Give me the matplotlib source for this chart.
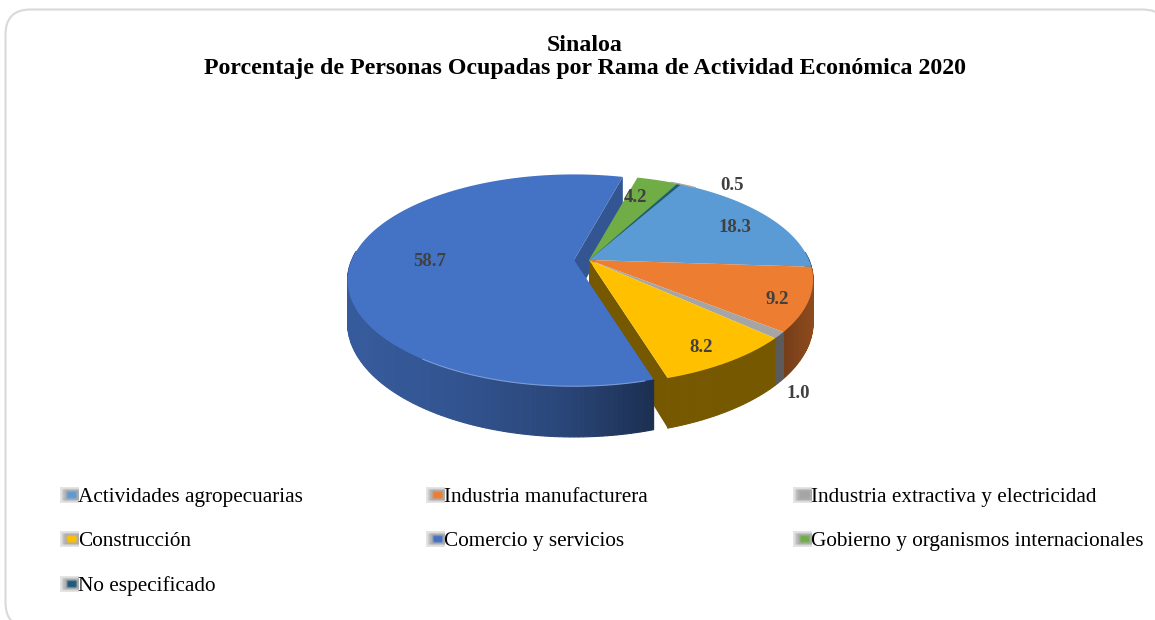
import numpy as np
import matplotlib
matplotlib.use('Agg')
import matplotlib.pyplot as plt
from matplotlib.patches import FancyBboxPatch, Polygon

plt.rcParams['font.family'] = ['Liberation Serif', 'DejaVu Serif']

title_lines = ['Sinaloa', 'Porcentaje de Personas Ocupadas por Rama de Actividad Económica 2020']
categories = ['Actividades agropecuarias', 'Industria manufacturera', 'Industria extractiva y electricidad',
              'Construcción', 'Comercio y servicios', 'Gobierno y organismos internacionales', 'No especificado']
values = [18.3, 9.2, 1.0, 8.2, 58.7, 4.2, 0.5]
value_labels = ['18.3', '9.2', '1.0', '8.2', '58.7', '4.2', '0.5']

colors = ['#5b9bd5', '#ed7d31', '#a5a5a5', '#ffc000', '#4472c4', '#70ad47', '#1f5c7c']
label_pos = [(735, 227), (777, 299), (798, 393), (701, 347), (430, 261), (635, 197), (732, 185)]
legend_pos = [(61, 502), (427, 502), (794, 502), (61, 546), (427, 546), (794, 546), (61, 591)]

# pie geometry, pixels
CX, CY = 589, 260
RX, RY = 220, 101
PERSP = 0.19
DEPTH = 41
START = 28
BLUE = 4
EXPLODE = (-15, 0)
BLUE_R = 1.01
# degrees added to the slice edges, the 3d view in the original skews them
EDGE_NUDGE = [0, 0, 2, 2, 3, 4, 3, 0]


def project(theta, r=1.0, dz=0.0, off=(0, 0)):
    u = r * np.sin(np.radians(theta))
    v = -r * np.cos(np.radians(theta))
    w = 1 - PERSP * v
    return CX + off[0] + RX * u / w, CY + off[1] + (RY * v + dz) / w


def shade(col, f):
    return tuple(np.array(matplotlib.colors.to_rgb(col)) * f)


def side_factor(i, x):
    if i == BLUE:
        return np.interp(x, [348, 450, 560, 650], [0.8, 0.74, 0.62, 0.42])
    if i == 3:
        return 0.46
    if i == 1:
        return np.interp(x, [770, 813], [0.45, 0.6])
    return 0.55


def slice_args(i):
    if i == BLUE:
        return BLUE_R, EXPLODE, 6
    return 1.0, (0, 0), 3


def draw_side(ax, i, t0, t1):
    r, off, z = slice_args(i)
    ts = np.linspace(t0, t1, max(int(t1 - t0), 2) + 1)
    for a, b in zip(ts[:-1], ts[1:]):
        # back of the pie has no visible wall
        if -np.cos(np.radians((a + b) / 2)) < -0.08:
            continue
        xa, ya = project(a, r, off=off)
        xb, yb = project(b, r, off=off)
        xc, yc = project(b, r, dz=DEPTH, off=off)
        xd, yd = project(a, r, dz=DEPTH, off=off)
        col = shade(colors[i], side_factor(i, (xa + xb) / 2))
        ax.add_patch(Polygon([(xa, ya), (xb, yb), (xc, yc), (xd, yd)], fc=col, ec=col, lw=0.8, zorder=z))


def draw_cut(ax, i, theta, f, z):
    r, off, _ = slice_args(i)
    x0, y0 = project(0, r=0, off=off)
    x1, y1 = project(theta, r, off=off)
    x2, y2 = project(theta, r, dz=DEPTH, off=off)
    x3, y3 = project(0, r=0, dz=DEPTH, off=off)
    ax.add_patch(Polygon([(x0, y0), (x1, y1), (x2, y2), (x3, y3)], fc=shade(colors[i], f), ec='none', zorder=z))


def draw_top(ax, i, t0, t1):
    r, off, z = slice_args(i)
    ts = np.linspace(t0, t1, max(int(t1 - t0), 2) + 1)
    pts = [project(0, r=0, off=off)] + [project(t, r, off=off) for t in ts]
    ax.add_patch(Polygon(pts, fc=colors[i], ec='none', zorder=z + 1))


def legend_key(ax, col, x, y):
    key = np.empty((7, 8, 3))
    key[:] = matplotlib.colors.to_rgb('#e4e4e4')
    key[1:6, 1:] = matplotlib.colors.to_rgb('#c0c0c0')
    key[1:6, 2:] = matplotlib.colors.to_rgb('#adadad')
    key[2:5, 3:7] = matplotlib.colors.to_rgb(col)
    ax.imshow(key, extent=(x - 1, x + 18, y + 8, y - 8), aspect='auto', interpolation='bilinear', zorder=4)


fig = plt.figure(figsize=(11.55, 6.2), dpi=100)
ax = fig.add_axes([0, 0, 1, 1])
ax.axis('off')

frame = FancyBboxPatch((5.5, 9.5), 1162, 618, boxstyle='round,pad=0,rounding_size=25',
                       fc='white', ec='#d9d9d9', lw=1.5, zorder=0)
ax.add_patch(frame)

ax.text(585, 51, title_lines[0], ha='center', va='baseline', fontsize=17.2, fontweight='bold', color='black')
ax.text(585, 74, title_lines[1], ha='center', va='baseline', fontsize=17.2, fontweight='bold', color='black')

# slices clockwise from START
edges = START + np.cumsum([0] + values) * 360 / sum(values) + np.array(EDGE_NUDGE)
draw_cut(ax, BLUE, edges[BLUE + 1], 0.75, 2)
for i in range(len(values)):
    draw_side(ax, i, edges[i], edges[i + 1])
draw_cut(ax, 3, edges[BLUE], 0.46, 3.5)
for i in range(len(values)):
    draw_top(ax, i, edges[i], edges[i + 1])

# lighter rim along the front of the big slice
rim = [project(t, BLUE_R, off=EXPLODE) for t in np.linspace(edges[BLUE] + 2, edges[BLUE] + 52, 50)]
ax.plot([p[0] for p in rim], [p[1] for p in rim], color='#7c9cd8', lw=0.8, zorder=8)
# grey line up to the 0.5 label
lead = [project(t) for t in np.linspace(edges[0] - 2, edges[0] + 6, 12)]
ax.plot([p[0] for p in lead], [p[1] for p in lead], color='#a6a6a6', lw=1.0, zorder=8)

for lab, (x, y) in zip(value_labels, label_pos):
    ax.text(x, y, lab, ha='center', va='center', fontsize=13.5, fontweight='bold', color='#404040', zorder=10)

for name, col, (x, y) in zip(categories, colors, legend_pos):
    legend_key(ax, col, x, y - 7)
    ax.text(x + 17, y, name, ha='left', va='baseline', fontsize=15.3, color='black', zorder=5)

ax.set_xlim(0, 1155)
ax.set_ylim(620, 0)

fig.savefig('out.png', dpi=100)
